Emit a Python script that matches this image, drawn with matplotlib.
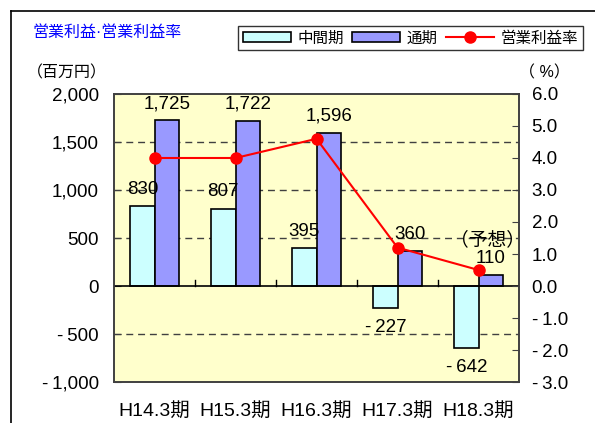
import matplotlib
matplotlib.use("Agg")
import matplotlib.pyplot as plt
from matplotlib.patches import Rectangle
from matplotlib.lines import Line2D
from matplotlib.ticker import FuncFormatter

plt.rcParams['font.family'] = ['Liberation Sans', 'Noto Sans CJK JP']

periods = ["H14.3期", "H15.3期", "H16.3期", "H17.3期", "H18.3期"]
interim = [830, 807, 395, -227, -642]
full_year = [1725, 1722, 1596, 360, 110]
margin = [4.0, 4.0, 4.6, 1.2, 0.5]

left_ticks = [-1000, -500, 0, 500, 1000, 1500, 2000]
right_ticks = [-3, -2, -1, 0, 1, 2, 3, 4, 5, 6]

c_interim = "#CCFFFF"
c_full = "#9999FF"
c_line = "#FF0000"
c_bg = "#FFFFCC"
frame_c = "#404040"


def fmt_neg(s):
    # excel style minus with a small gap
    return s.replace("-", "-\u2009")


fig = plt.figure(figsize=(5.95, 4.23), dpi=100)
ax = fig.add_axes([0.1916, 0.0969, 0.6807, 0.6809])
ax.set_facecolor(c_bg)

x = list(range(len(periods)))
w = 0.3
xi = [i - w / 2 for i in x]
xf = [i + w / 2 for i in x]
ax.bar(xi, interim, width=w, color=c_interim, edgecolor="black", linewidth=1.2, zorder=3)
ax.bar(xf, full_year, width=w, color=c_full, edgecolor="black", linewidth=1.2, zorder=3)

ax.set_xlim(-0.5, len(periods) - 0.5)
ax.set_ylim(-1000, 2000)
ax.set_yticks(left_ticks)
ax.yaxis.set_major_formatter(FuncFormatter(lambda v, p: fmt_neg(f"{int(v):,}")))
ax.tick_params(axis="y", direction="in", length=5, pad=11, labelsize=13.5, color=frame_c)
ax.set_xticks(x)
ax.set_xticklabels(periods)
ax.tick_params(axis="x", length=0, pad=14, labelsize=14)

for v in [-500, 500, 1000, 1500]:
    ax.axhline(v, color="#404040", linestyle=(0, (5, 3.5)), linewidth=1.0, zorder=1)
ax.axhline(0, color="black", linewidth=1.2, zorder=4)
for b in [0.5, 1.5, 2.5, 3.5]:
    ax.plot([b, b], [0, 62], color="black", linewidth=1.0, zorder=4)

for s in ax.spines.values():
    s.set_color(frame_c)
    s.set_linewidth(1.2)

for xx, v in zip(xi + xf, interim + full_year):
    if v >= 0:
        ax.annotate(f"{v:,}", (xx, v), xytext=(0, 6), textcoords="offset points",
                    ha="center", va="bottom", fontsize=13.5, zorder=6)
    else:
        ax.annotate(fmt_neg(f"{v:,}"), (xx, v), xytext=(0, -8), textcoords="offset points",
                    ha="center", va="top", fontsize=13.5, zorder=6)

ax.annotate("（予想）", (xf[-1], full_year[-1]), xytext=(-2, 25), textcoords="offset points",
            ha="center", va="center", fontsize=13.5, zorder=6)

ax2 = ax.twinx()
ax2.set_ylim(-3, 6)
ax2.set_yticks(right_ticks)
ax2.yaxis.set_major_formatter(FuncFormatter(lambda v, p: fmt_neg(f"{v:.1f}")))
ax2.tick_params(axis="y", direction="in", length=5, pad=9, labelsize=13.5, color=frame_c)
ax2.plot(x, margin, color=c_line, linewidth=1.5, marker="o", markersize=8, zorder=5)
for s in ax2.spines.values():
    s.set_color(frame_c)
    s.set_linewidth(1.2)

fig.text(33 / 595, 1 - 32 / 423, "営業利益·営業利益率", color="#0000FF", fontsize=11.5,
         ha="left", va="center")
fig.text(67 / 595, 1 - 73 / 423, "（百万円）", fontsize=11.5, ha="center", va="center")
fig.text(544 / 595, 1 - 73 / 423, "（ %）", fontsize=11.5, ha="center", va="center")

handles = [
    Rectangle((0, 0), 1, 1, facecolor=c_interim, edgecolor="black", linewidth=1.2),
    Rectangle((0, 0), 1, 1, facecolor=c_full, edgecolor="black", linewidth=1.2),
    Line2D([], [], color=c_line, linewidth=1.5, marker="o", markersize=8),
]
leg = fig.legend(handles, ["中間期", "通期", "営業利益率"], loc="upper left",
                 bbox_to_anchor=(238 / 595, 1 - 26 / 423), ncol=3, fontsize=11.2,
                 frameon=True, fancybox=False, edgecolor="black", handlelength=3.1,
                 handleheight=0.6, handletextpad=0.4, columnspacing=0.55,
                 borderpad=0.3, borderaxespad=0)
leg.get_frame().set_linewidth(1.0)

# outer chart frame
fig.add_artist(Line2D([11 / 595, 11 / 595], [0, 1 - 11 / 423], color="black", linewidth=1.2))
fig.add_artist(Line2D([11 / 595, 1], [1 - 11 / 423, 1 - 11 / 423], color="black", linewidth=1.2))

fig.savefig("out.png", dpi=100)
